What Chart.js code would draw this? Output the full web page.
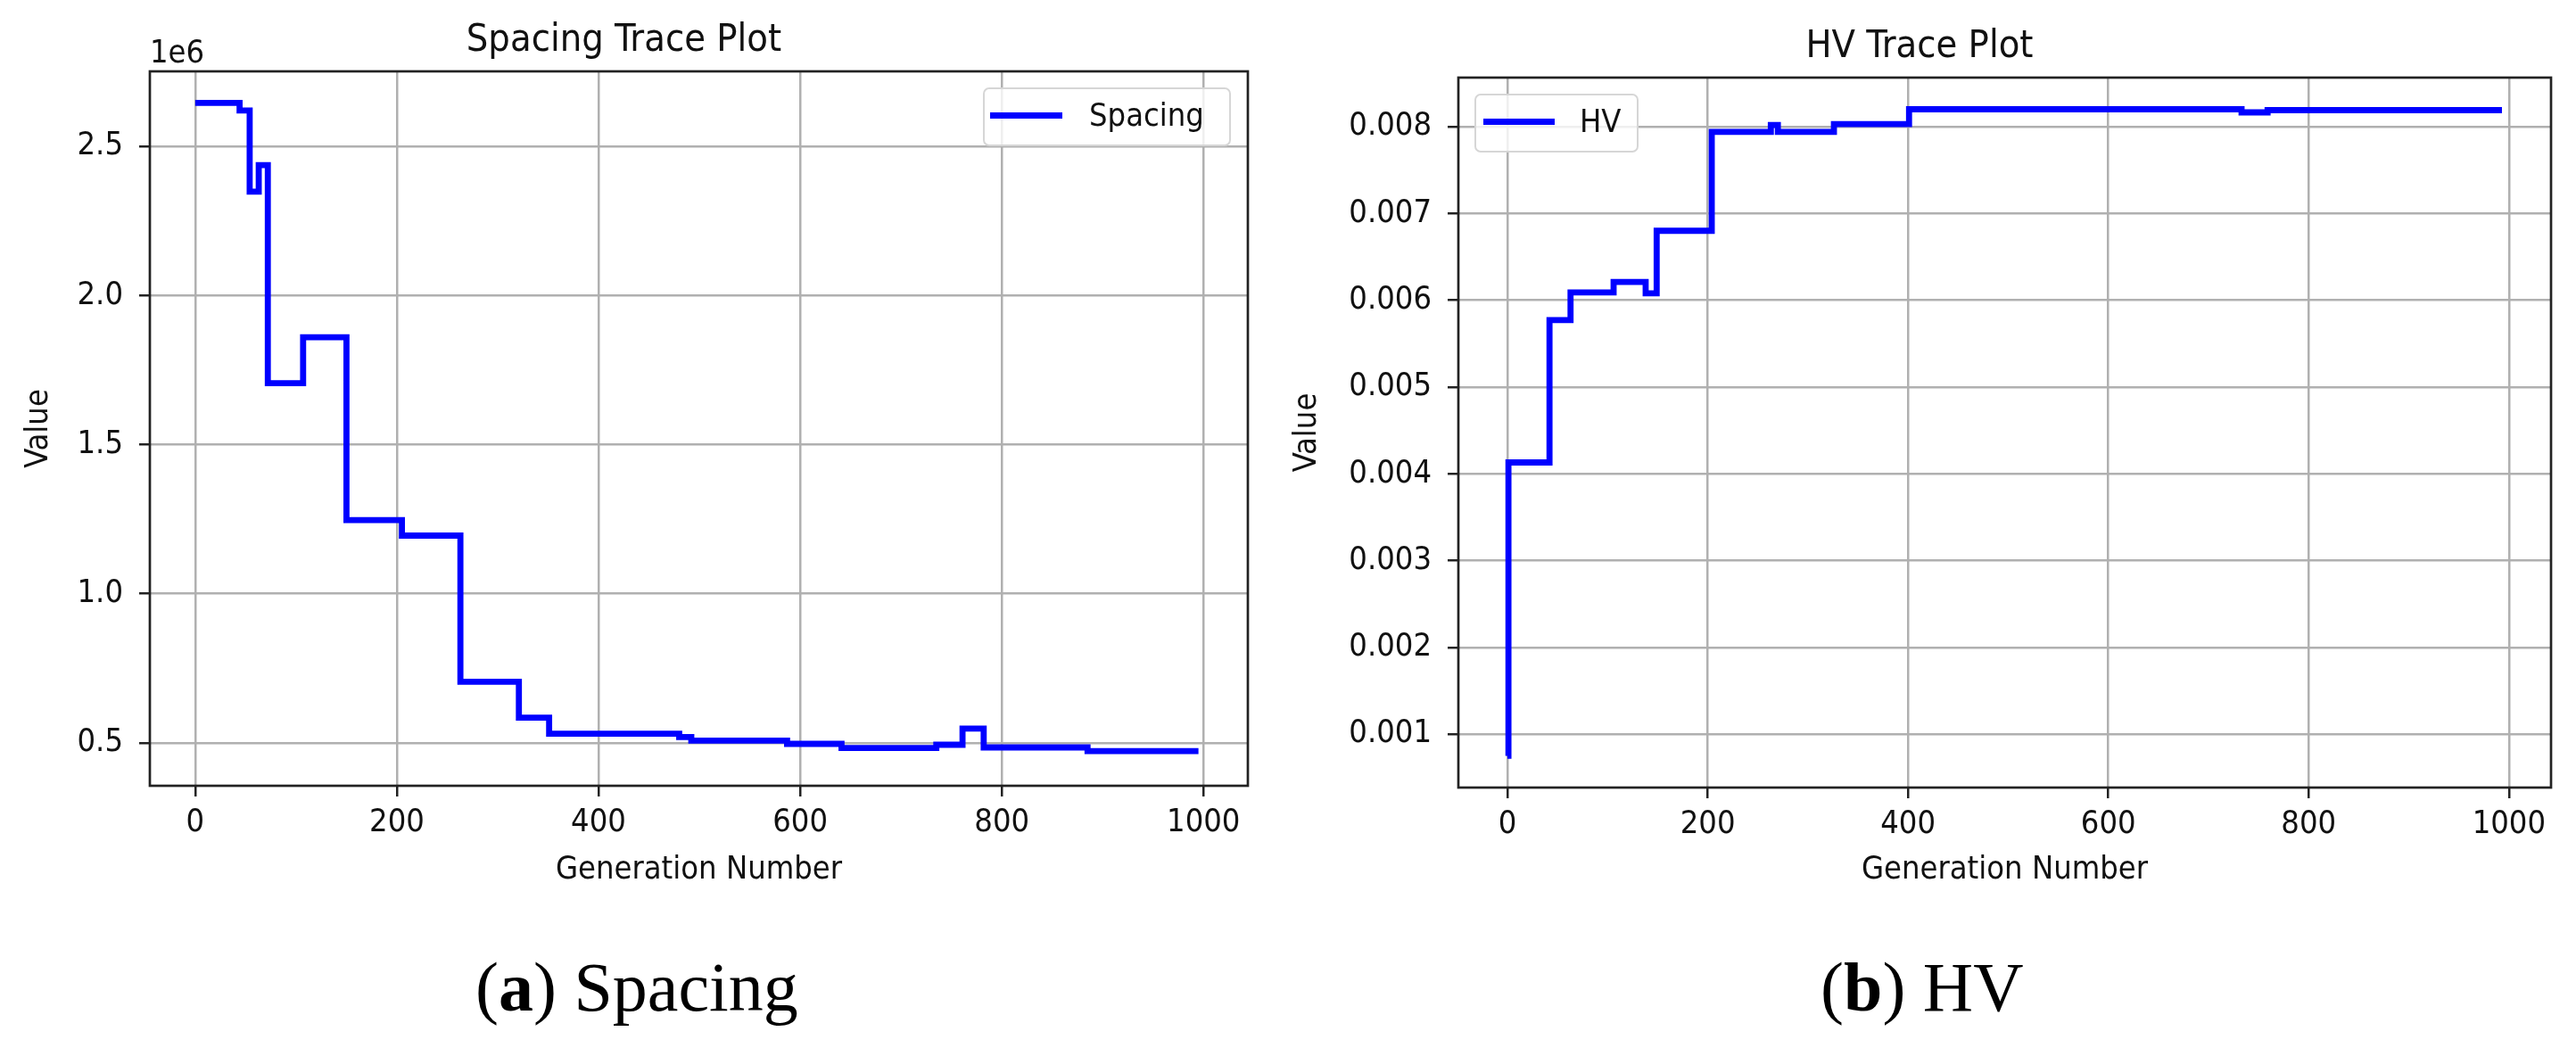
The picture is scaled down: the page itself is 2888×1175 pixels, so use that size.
<!DOCTYPE html>
<html>
<head>
<meta charset="utf-8">
<title>Spacing and HV trace plots</title>
<script src="https://cdn.jsdelivr.net/npm/chart.js@4.4.1/dist/chart.umd.min.js"></script>
<style>
  html, body { margin: 0; padding: 0; background: #fff; }
  body { position: relative; width: 2888px; height: 1175px; overflow: hidden; }
  canvas { position: absolute; top: 0; }
  #spacingChart { left: 0; }
  #hvChart { left: 1444px; }
  .legend {
    position: absolute; box-sizing: border-box;
    border: 2.5px solid #d6d6d6; border-radius: 7px;
    background: rgba(255, 255, 255, 0.8);
    font-family: 'DejaVu Sans Condensed', 'DejaVu Sans', sans-serif;
    font-size: 36px; color: #111;
  }
  .legend .swatch { position: absolute; height: 7px; background: #0000ff; }
  .legend .label { position: absolute; line-height: 1; white-space: nowrap; }
  .caption {
    position: absolute; top: 1068px; line-height: 1; white-space: nowrap;
    font-family: 'Liberation Serif', 'Times New Roman', serif; font-size: 78px; color: #000;
  }
</style>
</head>
<body>
<canvas id="spacingChart" width="1566" height="1020"></canvas>
<canvas id="hvChart" width="1607" height="1020"></canvas>

<div class="legend" style="left:1102px; top:98px; width:278px; height:66px;">
  <div class="swatch" style="left:6px; top:26px; width:81px;"></div>
  <div class="label" style="left:117px; top:11px;">Spacing</div>
</div>
<div class="legend" style="left:1653px; top:105px; width:184px; height:66px;">
  <div class="swatch" style="left:8px; top:26px; width:80px;"></div>
  <div class="label" style="left:116px; top:11px;">HV</div>
</div>

<div class="caption" style="left:533px;">(<b>a</b>) Spacing</div>
<div class="caption" style="left:2041px;">(<b>b</b>) HV</div>

<script>
// Spacing trace: generation where each level starts, and the level
const spacingGen = [0, 44, 54, 63, 72, 107, 150, 205, 263, 321, 351, 480, 492, 587, 641, 735, 761, 782, 885, 995];
const spacingVal = [2645000, 2620000, 2348000, 2437000, 1706000, 1860000, 1247000, 1195000, 705000, 585000,
                    531000, 520000, 508000, 497000, 483000, 494000, 548000, 485000, 473000, 473000];

// HV trace
const hvGen = [0, 1, 42, 63, 106, 138, 149, 204, 263, 270, 326, 401, 733, 759, 993];
const hvVal = [0.00075, 0.00413, 0.00577, 0.00609, 0.00621, 0.00608, 0.00680, 0.00794, 0.00802, 0.00794,
               0.00803, 0.00820, 0.008164, 0.00819, 0.00819];

// tick labels
const genTicks = [0, 200, 400, 600, 800, 1000];
const spacingTicks = [500000, 1000000, 1500000, 2000000, 2500000];
const hvTicks = [0.001, 0.002, 0.003, 0.004, 0.005, 0.006, 0.007, 0.008];

const FONT = "'DejaVu Sans Condensed', 'DejaVu Sans', sans-serif";
const INK = '#111';
const SPINE = '#222';

// matplotlib style box round the plot area
const framePlugin = {
  id: 'frame',
  afterDraw(chart, args, opts) {
    const { ctx, chartArea: a } = chart;
    ctx.save();
    ctx.strokeStyle = SPINE;
    ctx.lineWidth = 2.7;
    ctx.strokeRect(a.left, a.top, a.right - a.left, a.bottom - a.top);
    if (opts.offsetText) {
      ctx.fillStyle = INK;
      ctx.font = '36px ' + FONT;
      ctx.textAlign = 'left';
      ctx.textBaseline = 'alphabetic';
      ctx.fillText(opts.offsetText, a.left, a.top - 10);
    }
    ctx.restore();
  }
};

function axisGrid() {
  return {
    color: '#b0b0b0',
    lineWidth: 2.5,
    tickColor: SPINE,
    tickWidth: 2.5,
    tickLength: 12
  };
}

function makeChart(id, cfg) {
  return new Chart(document.getElementById(id).getContext('2d'), {
    type: 'line',
    data: {
      datasets: [{
        label: cfg.label,
        data: cfg.gens.map((g, i) => ({ x: g, y: cfg.vals[i] })),
        borderColor: '#0000ff',
        backgroundColor: '#0000ff',
        borderWidth: 6.8,
        borderJoinStyle: 'miter',
        pointRadius: 0,
        stepped: true,
        fill: false
      }]
    },
    options: {
      responsive: false,
      animation: false,
      events: [],
      layout: { padding: { left: 0, top: 0, right: cfg.padRight, bottom: 0 } },
      scales: {
        x: {
          type: 'linear',
          min: cfg.xMin,
          max: cfg.xMax,
          afterBuildTicks: s => { s.ticks = genTicks.map(v => ({ value: v })); },
          afterFit: s => { s.height = cfg.xHeight; },
          ticks: { font: { family: FONT, size: 36 }, color: INK, padding: 8, autoSkip: false, maxRotation: 0,
                   callback: v => String(v) },
          grid: axisGrid(),
          border: { display: false },
          title: { display: true, text: 'Generation Number', color: INK,
                   font: { family: FONT, size: 36 }, padding: { top: 0, bottom: 23 } }
        },
        y: {
          min: cfg.yMin,
          max: cfg.yMax,
          afterBuildTicks: s => { s.ticks = cfg.yTicks.map(v => ({ value: v })); },
          afterFit: s => { s.width = cfg.yWidth; },
          ticks: { font: { family: FONT, size: 36 }, color: INK, padding: 18, autoSkip: false,
                   callback: cfg.fmt },
          grid: axisGrid(),
          border: { display: false },
          title: { display: true, text: 'Value', color: INK,
                   font: { family: FONT, size: 36 }, padding: { top: cfg.yTitlePad, bottom: 0 } }
        }
      },
      plugins: {
        legend: { display: false },
        tooltip: { enabled: false },
        title: {
          display: true,
          text: cfg.title,
          color: INK,
          font: { family: FONT, size: 43, weight: 'normal' },
          padding: { top: cfg.titleTop, bottom: 8.4 }
        },
        frame: { offsetText: cfg.offsetText }
      }
    },
    plugins: [framePlugin]
  });
}

makeChart('spacingChart', {
  label: 'Spacing',
  title: 'Spacing Trace Plot',
  gens: spacingGen,
  vals: spacingVal,
  yTicks: spacingTicks,
  fmt: v => (v / 1e6).toFixed(1),
  offsetText: '1e6',
  xMin: -45, xMax: 1044,
  yMin: 356500, yMax: 2751000,
  padRight: 167, yWidth: 168, xHeight: 139,
  yTitlePad: 22, titleTop: 20
});

makeChart('hvChart', {
  label: 'HV',
  title: 'HV Trace Plot',
  gens: hvGen,
  vals: hvVal,
  yTicks: hvTicks,
  fmt: v => v.toFixed(3),
  offsetText: '',
  xMin: -49, xMax: 1042,
  yMin: 0.000384, yMax: 0.008565,
  padRight: 191, yWidth: 191, xHeight: 137,
  yTitlePad: 0, titleTop: 27
});
</script>
</body>
</html>
